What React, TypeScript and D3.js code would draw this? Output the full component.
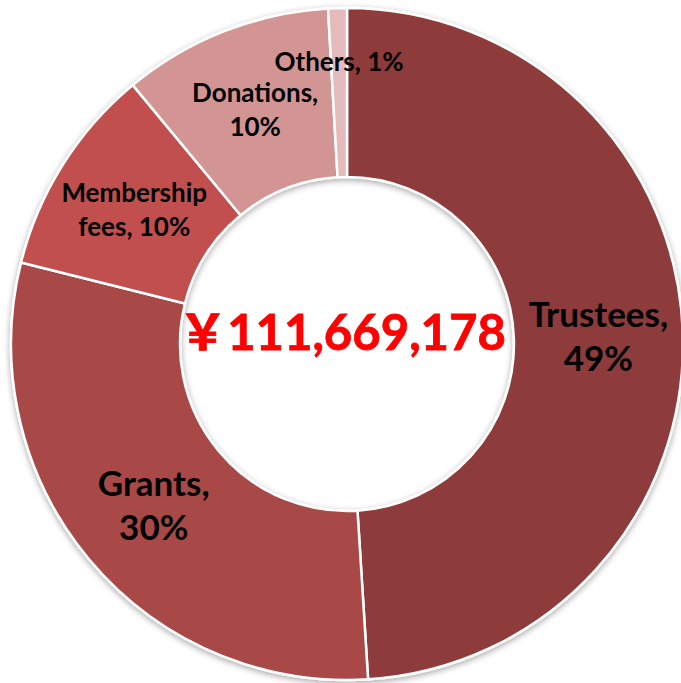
import { useEffect, useRef } from 'react';
import * as d3 from 'd3';

const categories = ['Trustees', 'Grants', 'Membership fees', 'Donations', 'Others'];
const shares = [49.0, 29.9, 10.1, 10.1, 0.9];
const percentLabels = ['49%', '30%', '10%', '10%', '1%'];
const labelLines = [
  ['Trustees,', '49%'],
  ['Grants,', '30%'],
  ['Membership', 'fees, 10%'],
  ['Donations,', '10%'],
  ['Others, 1%'],
];
const colors = ['#8E3B3A', '#A84846', '#C0504D', '#D39593', '#E4BABA'];
const totalLabel = '￥111,669,178';

const App = () => {
  const ref = useRef<SVGSVGElement>(null);

  useEffect(() => {
    const width = 681;
    const height = 683;
    const cx = 347;
    const cy = 344;
    const outer = 336;
    const inner = 167;

    const svg = d3.select(ref.current);
    svg.selectAll('*').remove();

    const defs = svg.append('defs');
    const filter = defs
      .append('filter')
      .attr('id', 'shadow')
      .attr('x', '-10%')
      .attr('y', '-10%')
      .attr('width', '120%')
      .attr('height', '120%');
    filter
      .append('feDropShadow')
      .attr('dx', 0)
      .attr('dy', 2)
      .attr('stdDeviation', 3)
      .attr('flood-color', '#000')
      .attr('flood-opacity', 0.35);

    svg.attr('width', width).attr('height', height);

    const data = categories.map((c, i) => ({ name: c, value: shares[i], i }));

    const pie = d3
      .pie<{ name: string; value: number; i: number }>()
      .value((d) => d.value)
      .sort(null)
      .startAngle(0)
      .endAngle(2 * Math.PI);

    const arc = d3
      .arc<d3.PieArcDatum<{ name: string; value: number; i: number }>>()
      .innerRadius(inner)
      .outerRadius(outer);

    const g = svg.append('g').attr('transform', `translate(${cx},${cy})`);

    g.append('g')
      .attr('filter', 'url(#shadow)')
      .selectAll('path')
      .data(pie(data))
      .join('path')
      .attr('d', arc)
      .attr('fill', (d) => colors[d.data.i])
      .attr('stroke', '#fff')
      .attr('stroke-width', 2.5)
      .attr('stroke-linejoin', 'round');

    const big = (v: number) => v > 20;

    const labels = g
      .append('g')
      .selectAll('text')
      .data(pie(data))
      .join('text')
      .attr('text-anchor', 'middle')
      .attr('font-family', 'Lato, "Open Sans", sans-serif')
      .attr('font-weight', 700)
      .attr('fill', '#000')
      .attr('font-size', (d) => (big(d.data.value) ? 35 : 26))
      .attr('transform', (d) => {
        let [x, y] = arc.centroid(d);
        if (d.data.value < 2) {
          // tiny slice: label pushed outward like the spreadsheet does
          const a = (d.startAngle + d.endAngle) / 2;
          const r = outer - 54;
          x = Math.sin(a) * r;
          y = -Math.cos(a) * r;
        }
        return `translate(${x},${y})`;
      });

    labels.each(function (d) {
      const lines = labelLines[d.data.i];
      const fs = big(d.data.value) ? 35 : 26;
      const lh = big(d.data.value) ? 44 : 34;
      const t = d3.select(this);
      lines.forEach((ln, k) => {
        t.append('tspan')
          .attr('x', 0)
          .attr('y', (k - (lines.length - 1) / 2) * lh + fs * 0.36)
          .text(ln);
      });
      t.append('title').text(`${d.data.name}: ${percentLabels[d.data.i]}`);
    });

    g.append('text')
      .attr('text-anchor', 'middle')
      .attr('x', -5)
      .attr('y', 6)
      .attr('font-family', 'Lato, "Noto Sans CJK JP", sans-serif')
      .attr('font-weight', 700)
      .attr('font-size', 49)
      .attr('fill', '#FF0000')
      .attr('stroke', '#FF0000')
      .attr('stroke-width', 0.8)
      .text(totalLabel);
  }, []);

  return (
    <svg
      ref={ref}
      style={{ position: 'absolute', left: 0, top: 0, background: '#fff' }}
    />
  );
};

export default App;
